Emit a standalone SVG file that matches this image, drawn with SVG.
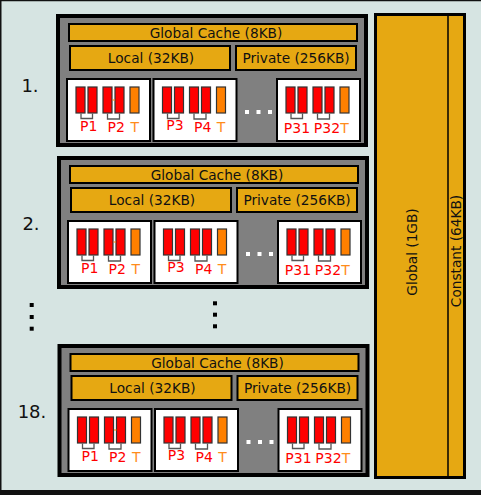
<svg xmlns="http://www.w3.org/2000/svg" xmlns:xlink="http://www.w3.org/1999/xlink" width="481" height="495" viewBox="0 0 481 495">
<style>
text{font-family:"DejaVu Sans","Liberation Sans",sans-serif;}
.blk{fill:#808080;stroke:#000;stroke-width:4;}
.mem{fill:#e6a812;stroke:#000;stroke-width:2;}
.lbl{font-size:13.7px;fill:#111;text-anchor:middle;}
.num{font-size:18px;fill:#111;text-anchor:middle;}
.cbox{fill:#fff;stroke:#000;stroke-width:2;}
.pe{fill:#ff0000;stroke:#333;stroke-width:1.2;}
.th{fill:#ff8000;stroke:#333;stroke-width:1.2;}
.br{fill:none;stroke:#555;stroke-width:1.3;}
.pl{font-size:14px;fill:#ff0000;text-anchor:middle;}
.tl{font-size:14px;fill:#ff8c1a;text-anchor:middle;}
.dot{fill:#fff;}
.vdot{fill:#000;}
</style>
<defs>
<g id="core">
<rect class="cbox" x="0" y="0" width="83" height="62"/>
<rect class="pe" x="9" y="8" width="9" height="26"/>
<rect class="pe" x="21" y="8" width="9" height="26"/>
<rect class="pe" x="36" y="8" width="9" height="26"/>
<rect class="pe" x="48" y="8" width="9" height="26"/>
<rect class="th" x="63" y="8" width="9" height="26"/>
<path class="br" d="M14 34.5V39.5H25.5V34.5"/>
<path class="br" d="M40.5 34.5V40H52.5V34.5"/>
</g>
<g id="block">
<rect class="blk" x="58" y="16" width="308" height="129"/>
<rect class="mem" x="69" y="24" width="288" height="17"/>
<text class="lbl" x="216" y="37.5">Global Cache (8KB)</text>
<rect class="mem" x="70" y="46" width="160" height="24"/>
<text class="lbl" x="151" y="62.7">Local (32KB)</text>
<rect class="mem" x="236" y="46" width="120" height="24"/>
<text class="lbl" x="296" y="62.7">Private (256KB)</text>
<use xlink:href="#core" x="67" y="79"/>
<path d="M112.5 100H115" stroke="#ff8000" stroke-width="1"/>
<text class="pl" x="88.7" y="131">P1</text>
<text class="pl" x="116.3" y="131.5">P2</text>
<text class="tl" x="134.7" y="131.5">T</text>
<use xlink:href="#core" x="153.5" y="79"/>
<text class="pl" x="175" y="130">P3</text>
<text class="pl" x="202.7" y="132">P4</text>
<text class="tl" x="221" y="132">T</text>
<use xlink:href="#core" x="277" y="79"/>
<text class="pl" x="297" y="133">P31</text>
<text class="pl" x="327" y="133">P32</text>
<text class="tl" x="344.5" y="133">T</text>
<rect class="dot" x="245" y="110" width="4" height="4"/>
<rect class="dot" x="256.5" y="110" width="4" height="4"/>
<rect class="dot" x="268" y="110" width="4" height="4"/>
</g>
</defs>
<rect x="0" y="0" width="481" height="495" fill="#d6e4e2"/>
<path d="M0 0.5H481M0.75 0V495" stroke="#111" stroke-width="1.5" fill="none"/>
<rect x="0" y="490" width="481" height="5" fill="#111"/>
<g id="sm1"><use xlink:href="#block"/></g>
<g id="sm2"><use xlink:href="#block" transform="translate(1,142)"/></g>
<g id="sm18"><use xlink:href="#block" transform="translate(1.5,330)"/></g>
<g id="labels">
<text class="num" x="30" y="92">1.</text>
<text class="num" x="31" y="230">2.</text>
<text class="num" x="32" y="418">18.</text>
</g>
<g id="ellipsis">
<rect class="vdot" x="29.7" y="303" width="4" height="4"/>
<rect class="vdot" x="29.7" y="315" width="4" height="4"/>
<rect class="vdot" x="29.7" y="326.7" width="4" height="4"/>
<rect class="vdot" x="213" y="301.3" width="4" height="4"/>
<rect class="vdot" x="213" y="312.7" width="4" height="4"/>
<rect class="vdot" x="213" y="324.3" width="4" height="4"/>
</g>
<g id="globalmem">
<rect x="375.5" y="14.5" width="89" height="463" fill="#e6a812" stroke="#000" stroke-width="3"/>
<path d="M448 16V476" stroke="#000" stroke-width="1.5"/>
<text class="lbl" transform="translate(417,252) rotate(-90)">Global (1GB)</text>
<text class="lbl" transform="translate(461,251) rotate(-90)">Constant (64KB)</text>
</g>
</svg>
